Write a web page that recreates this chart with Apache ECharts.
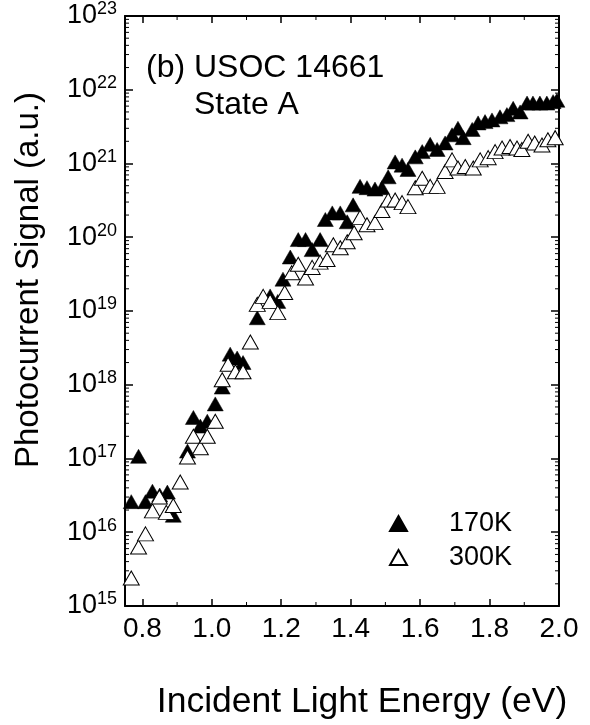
<!DOCTYPE html>
<html>
<head>
<meta charset="utf-8">
<script src="https://cdn.jsdelivr.net/npm/echarts@6/dist/echarts.min.js"></script>
<style>
html,body{margin:0;padding:0;background:#fff;}
#chart{width:590px;height:725px;}
</style>
</head>
<body>
<div id="chart"></div>
<script>
// ---- data ----
const energy170 = [0.768,0.789,0.809,0.829,0.85,0.872,0.889,0.93,0.947,0.967,0.987,1.01,1.03,1.053,1.073,1.09,1.131,1.168,1.19,1.205,1.226,1.249,1.27,1.289,1.312,1.327,1.347,1.37,1.39,1.407,1.427,1.447,1.47,1.49,1.508,1.528,1.548,1.565,1.586,1.606,1.629,1.649,1.672,1.692,1.709,1.724,1.75,1.767,1.787,1.807,1.83,1.85,1.868,1.888,1.908,1.925,1.945,1.965,1.983,1.994];
const signal170 = [2.6e16,1.07e17,2.6e16,3.6e16,3.2e16,3.5e16,1.7e16,1.26e17,3.6e17,2.75e17,3.2e17,5.5e17,9.3e17,2.6e18,2.3e18,2.0e18,8.1e18,1.6e19,1.35e19,2.7e19,5.4e19,9.3e19,9.3e19,6.8e19,9.3e19,1.74e20,2.14e20,2.14e20,1.62e20,2.75e20,4.9e20,4.7e20,4.5e20,4.7e20,6.6e20,1.05e21,9.5e20,8.3e20,1.23e21,1.45e21,1.82e21,1.55e21,1.9e21,2.45e21,3.0e21,2.24e21,2.9e21,3.55e21,3.7e21,3.9e21,4.3e21,4.6e21,5.6e21,5.0e21,6.6e21,6.6e21,6.6e21,6.6e21,6.9e21,7.2e21];
const energy300 = [0.768,0.789,0.809,0.829,0.849,0.869,0.889,0.909,0.93,0.947,0.967,0.987,1.01,1.03,1.047,1.068,1.09,1.111,1.131,1.148,1.168,1.19,1.21,1.23,1.249,1.27,1.289,1.312,1.332,1.35,1.37,1.39,1.41,1.427,1.447,1.47,1.49,1.508,1.528,1.548,1.565,1.586,1.606,1.629,1.649,1.672,1.692,1.709,1.73,1.753,1.773,1.796,1.816,1.836,1.859,1.879,1.893,1.911,1.93,1.951,1.968,1.989];
const signal300 = [2.4e15,6.3e15,9.5e15,1.95e16,3.0e16,1.86e16,2.3e16,4.8e16,1.05e17,2.0e17,1.4e17,2.0e17,3.2e17,1.17e18,1.9e18,1.5e18,1.5e18,3.8e18,1.23e19,1.58e19,1.35e19,9.5e18,1.78e19,3.3e19,4.3e19,2.8e19,3.9e19,4.6e19,5.0e19,7.9e19,7.2e19,8.7e19,1.15e20,1.86e20,1.48e20,1.58e20,2.3e20,3.2e20,3.2e20,2.95e20,2.6e20,4.7e20,6.3e20,4.9e20,4.9e20,7.8e20,1.12e21,8.7e20,9.1e20,8.7e20,1.12e21,1.2e21,1.45e21,1.62e21,1.7e21,1.62e21,1.55e21,2.0e21,1.9e21,1.78e21,2.1e21,2.24e21];
const seriesNames = ['170K', '300K'];
const xMajorTicks = [0.8, 1.0, 1.2, 1.4, 1.6, 1.8, 2.0];
const xMinorTicks = [0.9, 1.1, 1.3, 1.5, 1.7, 1.9];
const yDecadeExponents = [15, 16, 17, 18, 19, 20, 21, 22, 23];
const yMinorMultipliers = [2, 3, 4, 5, 6, 7, 8, 9];
const X_MIN = 0.75, X_MAX = 2.0;
const Y_MIN = 1e15, Y_MAX = 1e23;

const FONT = 'Liberation Sans, Arial, sans-serif';

const pts170 = energy170.map((e, i) => [e, signal170[i]]);
const pts300 = energy300.map((e, i) => [e, signal300[i]]);

const yMinorVals = [];
yDecadeExponents.slice(0, -1).forEach(ex => {
  yMinorMultipliers.forEach(m => yMinorVals.push([X_MIN, m * Math.pow(10, ex)]));
});
const xMinorVals = xMinorTicks.map(x => [x, Y_MIN]);

const chart = echarts.init(document.getElementById('chart'), null, {renderer: 'canvas'});

function axisX(pos, showLabel) {
  return {
    type: 'value', position: pos, min: X_MIN, max: X_MAX,
    axisLine: {show: true, onZero: false, lineStyle: {color: '#000', width: 2}},
    axisTick: {show: true, inside: true, length: 7, customValues: xMajorTicks, lineStyle: {color: '#000', width: 1.5}},
    axisLabel: showLabel ? {show: true, customValues: xMajorTicks, margin: 9, color: '#000', fontFamily: FONT, fontSize: 28,
      formatter: v => v.toFixed(1)} : {show: false},
    splitLine: {show: false},
    name: showLabel ? 'Incident Light Energy (eV)' : '',
    nameLocation: 'middle', nameGap: 78,
    nameTextStyle: {color: '#000', fontFamily: FONT, fontSize: 35.5, padding: [0, 0, 0, 40]}
  };
}
function axisY(pos, showLabel) {
  return {
    type: 'log', logBase: 10, position: pos, min: Y_MIN, max: Y_MAX, splitNumber: 8,
    axisLine: {show: true, onZero: false, lineStyle: {color: '#000', width: 2}},
    axisTick: {show: true, inside: true, length: 8, lineStyle: {color: '#000', width: 1.5}},
    axisLabel: showLabel ? {show: true, margin: 8, color: '#000', fontFamily: FONT,
      formatter: v => '{b|10}{s|' + Math.round(Math.log10(v)) + '}',
      rich: {b: {fontSize: 27, fontFamily: FONT, color: '#000'},
             s: {fontSize: 18, fontFamily: FONT, color: '#000', padding: [0, 0, 13, 0]}}} : {show: false},
    splitLine: {show: false},
    name: showLabel ? 'Photocurrent Signal (a.u.)' : '',
    nameLocation: 'middle', nameGap: 80,
    nameTextStyle: {color: '#000', fontFamily: FONT, fontSize: 33, padding: [0, 0, 0, 62]}
  };
}

function yMinorRender(params, api) {
  const v = api.value(1);
  const pL = api.coord([X_MIN, v]);
  const pR = api.coord([X_MAX, v]);
  return {type: 'group', children: [
    {type: 'line', shape: {x1: pL[0], y1: pL[1], x2: pL[0] + 4, y2: pL[1]}, style: {stroke: '#000', lineWidth: 1}},
    {type: 'line', shape: {x1: pR[0], y1: pR[1], x2: pR[0] - 4, y2: pR[1]}, style: {stroke: '#000', lineWidth: 1}}
  ]};
}
function xMinorRender(params, api) {
  const x = api.value(0);
  const pB = api.coord([x, Y_MIN]);
  const pT = api.coord([x, Y_MAX]);
  return {type: 'group', children: [
    {type: 'line', shape: {x1: pB[0], y1: pB[1], x2: pB[0], y2: pB[1] - 4}, style: {stroke: '#000', lineWidth: 1}},
    {type: 'line', shape: {x1: pT[0], y1: pT[1], x2: pT[0], y2: pT[1] + 4}, style: {stroke: '#000', lineWidth: 1}}
  ]};
}

const option = {
  animation: false,
  backgroundColor: '#fff',
  grid: {left: 125, right: 31, top: 16, bottom: 118, containLabel: false},
  xAxis: [axisX('bottom', true), axisX('top', false)],
  yAxis: [axisY('left', true), axisY('right', false)],
  legend: {
    show: true, orient: 'vertical', left: 384, top: 505, itemWidth: 17, itemHeight: 15, itemGap: 7,
    data: seriesNames,
    textStyle: {color: '#000', fontFamily: FONT, fontSize: 27, padding: [0, 0, 0, 37]}
  },
  graphic: [
    {type: 'text', left: 146, top: 52, style: {text: '(b) USOC 14661', font: '32px ' + FONT, fill: '#000'}},
    {type: 'text', left: 194, top: 89, style: {text: 'State A', font: '32px ' + FONT, fill: '#000'}}
  ],
  series: [
    {type: 'custom', name: 'yMinor', renderItem: yMinorRender, data: yMinorVals, silent: true, clip: false, z: 1},
    {type: 'custom', name: 'xMinor', renderItem: xMinorRender, data: xMinorVals, silent: true, clip: false, z: 1},
    {type: 'scatter', name: seriesNames[0], data: pts170, symbol: 'triangle', symbolSize: [16, 14],
      itemStyle: {color: '#000', borderColor: '#000', borderWidth: 0.5, opacity: 1}, z: 3},
    {type: 'scatter', name: seriesNames[1], data: pts300, symbol: 'triangle', symbolSize: [16, 14],
      itemStyle: {color: '#fff', borderColor: '#000', borderWidth: 1, opacity: 1}, z: 4}
  ]
};
chart.setOption(option);
</script>
</body>
</html>
